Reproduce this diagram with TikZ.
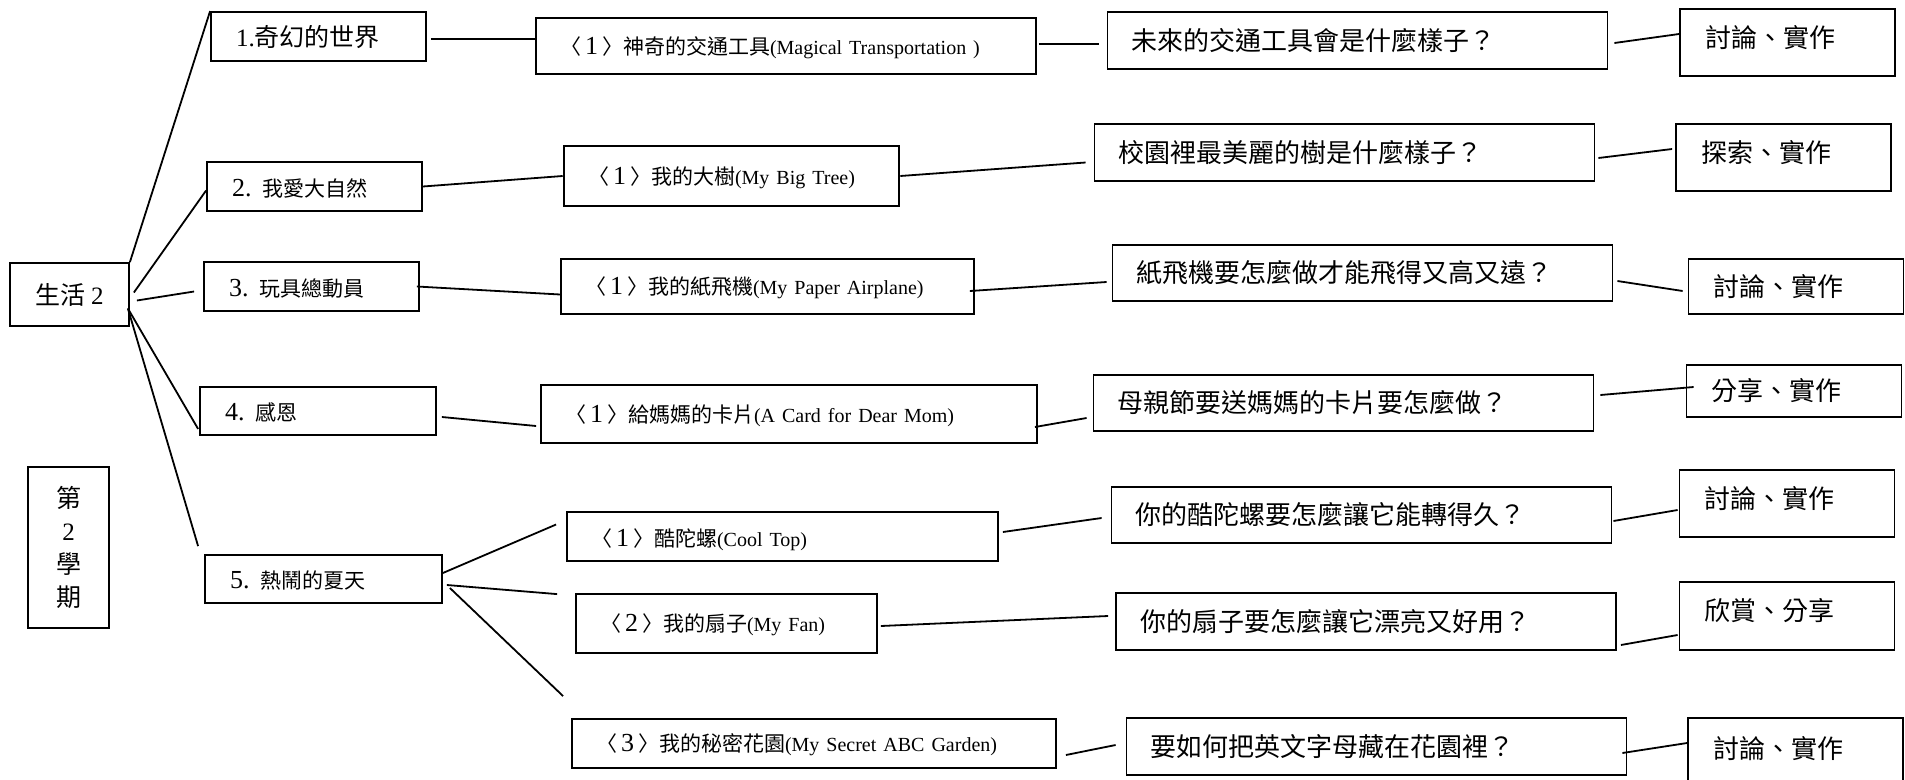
\documentclass[tikz,border=0pt]{standalone}
\usepackage{fontspec}
\setmainfont{Noto Sans CJK TC}
\newfontfamily\tnrfont{Liberation Serif}
\newcommand{\tnr}[1]{{\tnrfont #1}}
\newcommand{\eng}[1]{{\tnrfont\fontsize{20}{24}\selectfont #1}}
\newcommand{\unitno}[1]{〈\hspace{4pt}{\tnrfont\fontsize{26}{30}\selectfont #1}\hspace{4pt}〉}
\usetikzlibrary{positioning,calc}

\begin{document}
\begin{tikzpicture}[
    x=1pt, y=-1pt,
    frame/.style={rectangle, draw, line width=1.8pt},
    box/.style={frame, align=left, inner ysep=0pt, text height=22pt, text depth=3pt},
    theme/.style={box, inner xsep=25pt, text width=165pt, minimum height=49pt, font=\fontsize{21}{26}\selectfont},
    unitbox/.style={box, inner xsep=24pt, text height=20pt, text depth=4pt, font=\fontsize{21}{26}\selectfont},
    question/.style={box, inner xsep=24pt, text width=452pt, minimum height=57pt, font=\fontsize{26}{30}\selectfont},
    activity/.style={box, inner xsep=25pt, text width=165pt, minimum height=67pt, text depth=13pt, font=\fontsize{26}{30}\selectfont},
    link/.style={line width=1.8pt}
]
    \useasboundingbox (0,0) rectangle (1905,779);

    \node[frame, align=center, minimum width=119pt, minimum height=63pt, font=\fontsize{25}{30}\selectfont] (life) at (69.5,294.5) {生活 \tnr{2}};
    \node[frame, line width=1.3pt, align=center, minimum width=81pt, minimum height=161pt, font=\fontsize{25}{33}\selectfont] (term) at (68.5,547.5) {第\\\tnr{2}\\學\\期};

    \node[theme] (t1) at (318.5,36.5) {{\tnrfont\fontsize{25}{30}\selectfont 1.}{\fontsize{25}{30}\selectfont 奇幻的世界}};
    \node[theme] (t2) at (314.5,186.5) {{\tnrfont\fontsize{26}{30}\selectfont 2. }我愛大自然};
    \node[theme] (t3) at (311.5,286.5) {{\tnrfont\fontsize{26}{30}\selectfont 3. }玩具總動員};
    \node[theme, text width=186pt, minimum height=48pt] (t4) at (318,411) {{\tnrfont\fontsize{26}{30}\selectfont 4. }感恩};
    \node[theme, text width=187pt, minimum height=48pt] (t5) at (323.5,579) {{\tnrfont\fontsize{26}{30}\selectfont 5. }熱鬧的夏天};

    \node[unitbox, text width=452pt, minimum height=56pt] (u1) at (786,46) {\unitno{1}神奇的交通工具\eng{(Magical Transportation )}};
    \node[unitbox, line width=2.6pt, text width=287pt, minimum height=60pt] (u2) at (731.5,176) {\unitno{1}我的大樹\eng{(My Big Tree)}};
    \node[unitbox, text width=365pt, minimum height=55pt] (u3) at (767.5,286.5) {\unitno{1}我的紙飛機\eng{(My Paper Airplane)}};
    \node[unitbox, text width=448pt, minimum height=58pt] (u4) at (789,414) {\unitno{1}給媽媽的卡片\eng{(A Card for Dear Mom)}};
    \node[unitbox, text width=383pt, minimum height=49pt, text depth=0pt] (u5) at (782.5,536.5) {\unitno{1}酷陀螺\eng{(Cool Top)}};
    \node[unitbox, text width=253pt, minimum height=59pt] (u6) at (726.5,623.5) {\unitno{2}我的扇子\eng{(My Fan)}};
    \node[unitbox, text width=436pt, minimum height=49pt] (u7) at (814,743.5) {\unitno{3}我的秘密花園\eng{(My Secret ABC Garden)}};

    \node[question] (q1) at (1357.5,40.5) {未來的交通工具會是什麼樣子？};
    \node[question] (q2) at (1344.5,152.5) {校園裡最美麗的樹是什麼樣子？};
    \node[question, minimum height=56pt] (q3) at (1362.5,273) {紙飛機要怎麼做才能飛得又高又遠？};
    \node[question, minimum height=56pt] (q4) at (1343.5,403) {母親節要送媽媽的卡片要怎麼做？};
    \node[question, minimum height=56pt] (q5) at (1361.5,515) {你的酷陀螺要怎麼讓它能轉得久？};
    \node[question] (q6) at (1366,621.5) {你的扇子要怎麼讓它漂亮又好用？};
    \node[question] (q7) at (1376.5,746.5) {要如何把英文字母藏在花園裡？};

    \node[activity] (a1) at (1787.5,42.5) {討論、實作};
    \node[activity] (a2) at (1783.5,157.5) {探索、實作};
    \node[activity, minimum height=55pt, text depth=3pt] (a3) at (1796,286.5) {討論、實作};
    \node[activity, minimum height=52pt, text depth=3pt] (a4) at (1794,391) {分享、實作};
    \node[activity] (a5) at (1787,503.5) {討論、實作};
    \node[activity, minimum height=68pt] (a6) at (1787,616) {欣賞、分享};
    \node[activity, minimum height=72pt] (a7) at (1795.5,754) {討論、實作};

    \coordinate (fork) at ([xshift=-2pt,yshift=-14pt]life.east);
    \draw[link] (life.north east) -- (t1.north west);
    \draw[link] ([xshift=4pt,yshift=2pt]life.east) -- ([yshift=-4pt]t2.west);
    \draw[link] ([xshift=7pt,yshift=-6pt]life.east) -- ([xshift=-9pt,yshift=-5pt]t3.west);
    \draw[link] (fork) -- ([xshift=-1pt,yshift=7pt]t4.south west);
    \draw[link] (fork) -- ([xshift=-6pt,yshift=8pt]t5.north west);

    \draw[link] ([xshift=4pt,yshift=-2.5pt]t1.east) -- ([yshift=7pt]u1.west);
    \draw[link] (t2.east) -- (u2.west);
    \draw[link] ([xshift=-3pt]t3.east) -- ([yshift=-8pt]u3.west);
    \draw[link] ([xshift=5pt,yshift=-6pt]t4.east) -- ([xshift=-4pt,yshift=-12pt]u4.west);
    \draw[link] ([yshift=6pt]t5.east) -- ([xshift=-10pt,yshift=12pt]u5.west);
    \draw[link] ([xshift=4pt,yshift=-6pt]t5.east) -- ([xshift=-18pt,yshift=-1pt]u6.north west);
    \draw[link] ([xshift=7pt,yshift=-9pt]t5.east) -- ([xshift=-8pt,yshift=22pt]u7.north west);

    \draw[link] ([xshift=2pt,yshift=2pt]u1.east) -- ([xshift=-8pt,yshift=-3.5pt]q1.west);
    \draw[link] (u2.east) -- ([xshift=-8pt,yshift=-10pt]q2.west);
    \draw[link] ([xshift=-5pt,yshift=-4.5pt]u3.east) -- ([xshift=-5pt,yshift=-9pt]q3.west);
    \draw[link] ([xshift=-3pt,yshift=-13pt]u4.east) -- ([xshift=-6pt,yshift=-15pt]q4.west);
    \draw[link] ([xshift=4pt,yshift=4.5pt]u5.east) -- ([xshift=-9pt,yshift=-3pt]q5.west);
    \draw[link] ([xshift=3pt,yshift=-2.5pt]u6.east) -- ([xshift=-7pt,yshift=5.5pt]q6.west);
    \draw[link] ([xshift=9pt,yshift=-11.5pt]u7.east) -- ([xshift=-10pt,yshift=1.5pt]q7.west);

    \draw[link] ([xshift=6pt,yshift=-2.5pt]q1.east) -- ([yshift=8.5pt]a1.west);
    \draw[link] ([xshift=3pt,yshift=-5.5pt]q2.east) -- ([xshift=-3pt,yshift=8.5pt]a2.west);
    \draw[link] ([xshift=4pt,yshift=-8pt]q3.east) -- ([xshift=-5pt,yshift=-4.5pt]a3.west);
    \draw[link] ([xshift=6pt,yshift=8pt]q4.east) -- ([xshift=8pt,yshift=4pt]a4.west);
    \draw[link] ([xshift=1pt,yshift=-6pt]q5.east) -- ([xshift=-1pt,yshift=-6.5pt]a5.west);
    \draw[link] ([xshift=4pt,yshift=-23.5pt]q6.east) -- ([xshift=-1pt,yshift=-19pt]a6.west);
    \draw[link] ([xshift=-5pt,yshift=-6.5pt]q7.east) -- ([yshift=11pt]a7.west);
\end{tikzpicture}
\end{document}
